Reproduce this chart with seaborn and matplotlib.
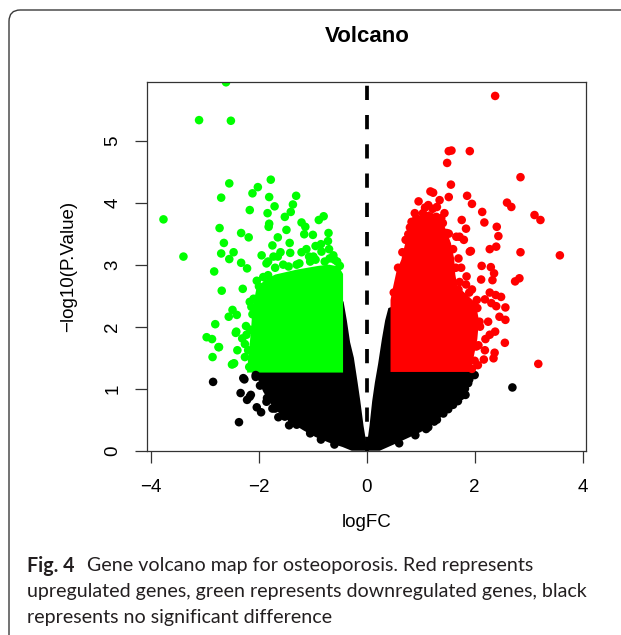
import matplotlib
matplotlib.use("Agg")
import pandas as pd
import matplotlib.pyplot as plt
import seaborn as sns
from matplotlib.patches import FancyBboxPatch

# ---- data (logFC, -log10 P) ----
# sparse / fringe points
black_x = [2.70, 2.00, 1.88, 1.83, 1.69, 1.14, 1.51, 1.30,
           -2.85, -2.27, -2.34, -2.22, -2.17, -2.04, -1.96, -2.37, -2.06, -1.64,
           -1.75, -1.44, -1.39, -1.86, -2.29, -2.15, -2.06,
           -1.98, -1.85, -1.70, -1.52, -1.30, -1.05, -0.85, -0.60, 0.60, 0.90,
           1.10, 1.25, 1.42, 1.60, 1.74, 1.82, 1.90]
black_y = [1.02, 1.22, 1.09, 0.90, 0.80, 0.38, 0.67, 0.50,
           1.11, 1.15, 0.93, 0.82, 0.87, 0.70, 0.62, 0.46, 1.22, 0.54,
           0.68, 0.41, 0.51, 0.79, 1.17, 0.90, 1.19,
           1.05, 0.85, 0.68, 0.55, 0.42, 0.28, 0.18, 0.10, 0.12, 0.25,
           0.35, 0.47, 0.60, 0.74, 0.88, 1.00, 1.15]

green_x = [-2.61, -3.11, -2.52, -1.78, -2.55, -2.02, -2.12, -2.70, -1.81, -1.31,
           -1.71, -1.37, -2.17, -1.84, -1.41, -1.52, -0.80, -0.89, -3.77, -1.21,
           -1.81, -1.82, -2.73, -1.14, -1.49, -2.33, -1.16, -1.00, -0.71, -2.19,
           -1.65, -2.65, -1.43, -1.75, -0.85, -0.72, -1.42, -2.70, -2.47, -0.70,
           -3.40, -1.95, -1.65, -1.21, -1.07, -2.55, -2.33, -2.22, -1.83, -2.83,
           -2.69, -2.30, -2.04, -1.83, -2.49, -2.56, -2.41, -2.81, -2.97, -2.87,
           -2.42, -2.74, -2.86, -2.40, -2.48, -2.31, -2.24, -2.17, -2.26, -2.46,
           -2.23, -2.43, -2.75, -0.69, -0.84, -0.99, -1.73, -1.86, -0.55, -0.62,
           -0.78, -1.05, -1.30, -1.55, -1.12, -0.95, -1.60, -2.50,
           -2.18, -2.20, -2.16, -2.12, -2.10, -2.00, -1.92, -1.70, -1.45, -1.25,
           -0.95, -0.60, -0.50, -2.26, -2.14]
green_y = [5.94, 5.33, 5.32, 4.37, 4.31, 4.25, 4.15, 4.08, 4.09, 4.11,
           3.94, 3.97, 3.88, 3.83, 3.85, 3.77, 3.78, 3.72, 3.73, 3.68,
           3.66, 3.61, 3.59, 3.61, 3.56, 3.51, 3.49, 3.48, 3.51, 3.44,
           3.44, 3.35, 3.35, 3.31, 3.33, 3.38, 3.19, 3.18, 3.20, 3.25,
           3.13, 3.15, 3.13, 3.20, 3.13, 3.09, 3.03, 2.94, 3.05, 2.89,
           2.58, 2.61, 2.74, 2.83, 2.27, 2.16, 2.19, 2.04, 1.83, 1.80,
           1.92, 1.67, 1.51, 1.62, 1.40, 1.81, 2.01, 2.40, 1.51, 1.41,
           1.87, 1.90, 1.67, 3.10, 3.21, 3.13, 3.13, 3.02, 3.05, 3.15,
           3.05, 3.05, 3.00, 3.00, 3.25, 3.30, 3.20, 1.39,
           1.35, 1.62, 1.95, 2.20, 2.45, 2.65, 2.80, 2.95, 2.97, 3.02,
           3.08, 3.08, 2.98, 1.72, 2.32]

red_x = [2.38, 1.52, 1.57, 1.91, 1.49, 2.85, 1.56, 1.18, 1.23, 1.52,
         1.86, 0.96, 2.60, 2.68, 1.30, 1.95, 1.44, 2.14, 0.89, 3.11,
         3.22, 1.76, 2.18, 0.83, 1.84, 2.41, 2.44, 0.77, 1.72, 1.80,
         1.11, 2.28, 2.40, 1.93, 2.85, 3.58, 1.51, 1.91, 2.13, 2.30,
         2.36, 1.85, 2.12, 2.33, 2.75, 2.83, 1.84, 2.28, 2.39, 2.49,
         2.04, 2.19, 2.31, 2.40, 2.57, 2.46, 2.57, 2.25, 2.09, 2.38,
         2.28, 2.20, 2.56, 2.37, 2.35, 2.19, 2.03, 2.17, 3.18, 2.06,
         1.35, 1.14, 1.04, 1.29, 1.41, 1.32, 1.48, 0.86, 0.98, 1.66,
         1.70, 1.75, 1.95, 1.70,
         0.50, 0.58, 0.66, 0.72, 0.80, 0.92, 1.08, 1.22, 1.38, 1.52,
         1.60, 1.65, 1.72, 1.90, 2.05, 2.10, 2.07, 2.00, 1.95]
red_y = [5.72, 4.83, 4.84, 4.83, 4.64, 4.41, 4.29, 4.18, 4.16, 4.09,
         4.11, 4.02, 4.00, 3.93, 3.93, 3.98, 3.83, 3.85, 3.83, 3.80,
         3.72, 3.72, 3.68, 3.69, 3.58, 3.61, 3.46, 3.49, 3.45, 3.40,
         3.29, 3.25, 3.29, 3.22, 3.20, 3.15, 3.22, 3.21, 2.98, 2.96,
         2.86, 2.81, 2.76, 2.75, 2.73, 2.78, 2.68, 2.55, 2.51, 2.48,
         2.43, 2.44, 2.38, 2.33, 2.31, 2.16, 2.11, 2.08, 2.08, 1.92,
         1.87, 1.80, 1.74, 1.58, 1.49, 1.62, 1.68, 1.47, 1.40, 1.38,
         4.04, 3.96, 3.83, 3.77, 3.67, 3.61, 3.51, 3.56, 3.67, 3.45,
         3.10, 2.95, 2.60, 2.60,
         2.55, 2.95, 3.20, 3.40, 3.60, 3.75, 3.92, 3.90, 3.75, 3.50,
         3.25, 2.95, 2.72, 2.55, 2.30, 2.00, 1.70, 1.45, 1.32]

# outlines of the solid, over-plotted masses of points
black_core_x = [-2.10, -2.02, -1.92, -1.78, -1.60, -1.40, -1.18, -0.95, -0.70, -0.45,
                -0.28, 0.24, 0.50, 0.80, 1.00, 1.17, 1.35, 1.50, 1.66, 1.78,
                1.86, 1.93, 1.95, 0.46, 0.46, 0.40, 0.34, 0.28, 0.21, 0.15,
                0.10, 0.05, 0.00, -0.06, -0.12, -0.17, -0.24, -0.31, -0.37, -0.43,
                -0.47, -0.47]
black_core_y = [1.30, 1.15, 0.95, 0.75, 0.58, 0.45, 0.33, 0.22, 0.13, 0.06,
                0.00, 0.00, 0.10, 0.22, 0.30, 0.39, 0.52, 0.64, 0.80, 0.92,
                1.05, 1.20, 1.30, 1.30, 2.32, 2.30, 2.10, 1.80, 1.40, 1.10,
                0.80, 0.40, 0.08, 0.40, 0.80, 1.10, 1.50, 1.75, 2.10, 2.40,
                2.45, 1.30]
green_core_x = [-0.44, -0.44, -0.52, -0.70, -0.90, -1.10, -1.30, -1.50, -1.70, -1.90,
                -2.05, -2.12, -2.15, -2.20, -2.22]
green_core_y = [1.26, 2.85, 2.97, 3.00, 2.98, 2.95, 2.92, 2.88, 2.84, 2.75,
                2.60, 2.30, 1.90, 1.50, 1.26]
red_core_x = [0.44, 0.44, 0.49, 0.55, 0.64, 0.70, 0.76, 0.86, 1.00, 1.15,
              1.30, 1.45, 1.56, 1.62, 1.64, 1.68, 1.85, 2.02, 2.08, 2.05,
              1.98, 1.92]
red_core_y = [1.27, 2.43, 2.65, 2.89, 3.08, 3.30, 3.50, 3.68, 3.80, 3.86,
              3.80, 3.60, 3.35, 3.10, 2.85, 2.65, 2.52, 2.38, 2.10, 1.80,
              1.50, 1.27]

x_ticks = [-4, -2, 0, 2, 4]
y_ticks = [0, 1, 2, 3, 4, 5]
colors = {"ns": "#000000", "down": "#00FF00", "up": "#FF0000"}

df = pd.concat([
    pd.DataFrame({"logFC": black_x, "p": black_y, "group": "ns"}),
    pd.DataFrame({"logFC": green_x, "p": green_y, "group": "down"}),
    pd.DataFrame({"logFC": red_x, "p": red_y, "group": "up"}),
], ignore_index=True)

sns.set_style("ticks")
plt.rcParams["font.family"] = ["Liberation Sans", "DejaVu Sans"]
plt.rcParams["text.color"] = "black"
plt.rcParams["axes.labelcolor"] = "black"
plt.rcParams["xtick.color"] = "black"
plt.rcParams["ytick.color"] = "black"

fig = plt.figure(figsize=(6.21, 6.35), dpi=100)
ax = fig.add_axes([0.2372, 0.2902, 0.7069, 0.5802])

ax.fill(black_core_x, black_core_y, color=colors["ns"], lw=0, zorder=1)
ax.fill(green_core_x, green_core_y, color=colors["down"], lw=0, zorder=1.2)
ax.fill(red_core_x, red_core_y, color=colors["up"], lw=0, zorder=1.2)

sns.scatterplot(data=df, x="logFC", y="p", hue="group", palette=colors,
                s=38, linewidth=0, legend=False, ax=ax, zorder=2)

ax.axvline(0, color="black", lw=2.7, ls=(0, (3.8, 4.0)), zorder=3)

ax.set_xlim(-4.07, 4.07)
ax.set_ylim(0, 5.94)
ax.set_xticks(x_ticks)
ax.set_yticks(y_ticks)
ax.set_xticklabels(["\u22124", "\u22122", "0", "2", "4"])
for sp in ax.spines.values():
    sp.set_color("#333333")
    sp.set_linewidth(0.9)
ax.tick_params(axis="both", length=8.6, width=0.9, color="#333333",
               labelsize=13.5, labelcolor="black")
ax.tick_params(axis="x", pad=12)
ax.tick_params(axis="y", pad=10, labelrotation=90)
for lab in ax.get_yticklabels():
    lab.set_va("center")

ax.set_xlabel("logFC", fontsize=13.5)
ax.set_ylabel("\u2212log10(P.Value)", fontsize=13.5)
ax.xaxis.set_label_coords(0.5, -0.196)
ax.xaxis.label.set_va("center")
ax.yaxis.set_label_coords(-0.18, 0.5)
ax.yaxis.label.set_va("center")

fig.text(367 / 621, 1 - 36 / 635, "Volcano", ha="center", va="center",
         fontsize=16, fontweight="bold", color="black")

# frame of the figure panel and caption
frame = FancyBboxPatch((9 / 621, -0.2), 1.3, 1.2 - 10 / 635,
                       boxstyle="round,pad=0,rounding_size=0.018",
                       transform=fig.transFigure, fill=False,
                       edgecolor="#3a3a3a", lw=1.0, clip_on=False)
fig.patches.append(frame)

cap = dict(fontsize=14.1, family=["Lato", "DejaVu Sans"], va="center", color="#231f20")
fig.text(27 / 621, 1 - 566 / 635, "Fig. 4", fontweight="bold", **cap)
fig.text(87 / 621, 1 - 566 / 635, "Gene volcano map for osteoporosis. Red represents", **cap)
fig.text(27 / 621, 1 - 592 / 635,
         "upregulated genes, green represents downregulated genes, black", **cap)
fig.text(27 / 621, 1 - 618 / 635, "represents no significant difference", **cap)

fig.savefig("out.png", dpi=100)
